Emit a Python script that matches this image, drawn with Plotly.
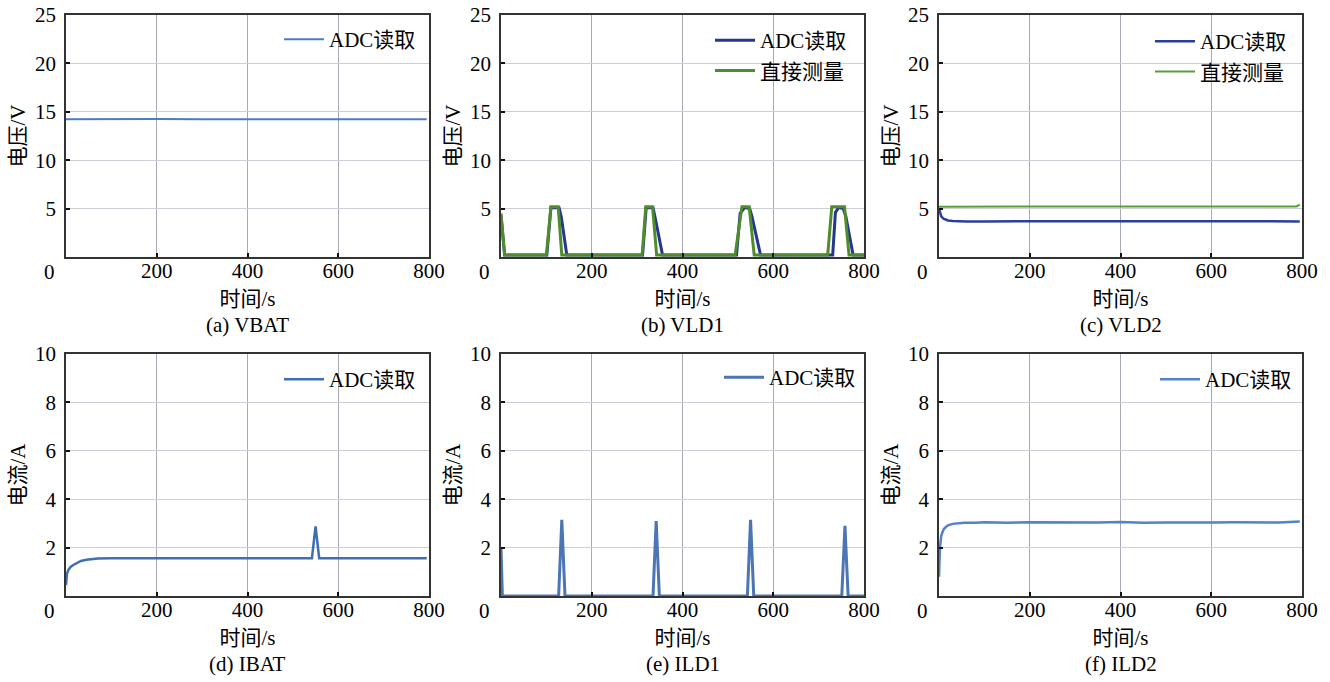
import plotly.graph_objects as go

# ---------------- data ----------------
vbat_t = [0, 100, 200, 300, 400, 500, 600, 700, 795]
vbat_adc = [14.22, 14.27, 14.25, 14.23, 14.24, 14.22, 14.25, 14.24, 14.23]

vld1_direct_t = [0, 8, 100, 110, 126, 134, 311, 319, 334, 343, 516, 531, 547, 558, 720, 729, 757, 767, 800]
vld1_direct = [4.5, 0.2, 0.2, 5.2, 5.2, 0.2, 0.2, 5.2, 5.2, 0.2, 0.2, 5.2, 5.2, 0.2, 0.2, 5.2, 5.2, 0.2, 0.2]
vld1_adc_t = [0, 8, 101, 110, 128, 133, 145, 312, 320, 335, 340, 356, 519, 527, 537, 548, 553, 572, 731, 737, 744, 754, 760, 776, 800]
vld1_adc = [4.3, 0.2, 0.2, 5.1, 5.1, 4.1, 0.2, 0.2, 5.1, 5.1, 4.0, 0.2, 0.2, 4.5, 5.1, 5.0, 4.2, 0.2, 0.2, 4.6, 5.1, 5.0, 4.2, 0.2, 0.2]

vld2_direct_t = [0, 100, 200, 300, 400, 500, 600, 700, 788, 795]
vld2_direct = [5.2, 5.2, 5.2, 5.21, 5.2, 5.2, 5.21, 5.2, 5.22, 5.4]
vld2_adc_t = [0, 2, 5, 10, 15, 20, 30, 40, 60, 100, 200, 300, 400, 500, 600, 700, 795]
vld2_adc = [5.0, 4.6, 4.2, 3.95, 3.85, 3.78, 3.72, 3.7, 3.68, 3.68, 3.7, 3.72, 3.7, 3.69, 3.7, 3.69, 3.68]

ibat_t = [0, 2, 5, 10, 16, 25, 33, 45, 55, 70, 100, 200, 300, 400, 500, 542, 550, 558, 600, 700, 795]
ibat_adc = [0.45, 0.9, 1.07, 1.2, 1.28, 1.38, 1.45, 1.5, 1.53, 1.55, 1.56, 1.56, 1.56, 1.56, 1.56, 1.56, 2.88, 1.56, 1.56, 1.56, 1.56]

ild1_t = [0, 3, 127, 134, 141, 335, 342, 349, 543, 550, 557, 751, 758, 765, 800]
ild1_adc = [2.0, 0, 0, 3.15, 0, 0, 3.1, 0, 0, 3.15, 0, 0, 2.9, 0, 0]

ild2_t = [0, 2, 5, 10, 15, 20, 30, 40, 55, 80, 100, 125, 150, 200, 250, 300, 350, 400, 450, 500, 550, 600, 650, 700, 750, 795]
ild2_adc = [0.8, 2.0, 2.5, 2.75, 2.85, 2.92, 2.98, 3.01, 3.03, 3.03, 3.05, 3.04, 3.03, 3.05, 3.04, 3.03, 3.04, 3.06, 3.03, 3.04, 3.03, 3.04, 3.05, 3.03, 3.04, 3.08]

captions = ["(a) VBAT", "(b) VLD1", "(c) VLD2", "(d) IBAT", "(e) ILD1", "(f) ILD2"]
x_title = "时间/s"
y_titles = ["电压/V", "电压/V", "电压/V", "电流/A", "电流/A", "电流/A"]
x_ticks = [200, 400, 600, 800]
v_ticks = [5, 10, 15, 20, 25]
i_ticks = [2, 4, 6, 8, 10]
name_adc = "ADC读取"
name_direct = "直接测量"

# ---------------- layout geometry ----------------
W, H = 1330, 682
FONT = "Liberation Serif, Noto Sans CJK SC, serif"
FS = 21
xdom_px = [(66, 429), (501, 864), (939, 1302)]
ydom_px = [(15, 257), (354, 596)]
legend_px = [(286, 40), (717, 41), (1157, 42), (286, 380), (726, 378), (1162, 380)]


def px(p):
    return p / W


def py(p):
    return 1 - p / H


fig = go.Figure()

series = [
    [(vbat_t, vbat_adc, name_adc, "#4a7cc4", 2)],
    [(vld1_adc_t, vld1_adc, name_adc, "#26368f", 3), (vld1_direct_t, vld1_direct, name_direct, "#4e8c2c", 3)],
    [(vld2_adc_t, vld2_adc, name_adc, "#2a3f99", 2.5), (vld2_direct_t, vld2_direct, name_direct, "#5a9e36", 2)],
    [(ibat_t, ibat_adc, name_adc, "#3f6fb3", 2.5)],
    [(ild1_t, ild1_adc, name_adc, "#4c75b3", 3)],
    [(ild2_t, ild2_adc, name_adc, "#5382c6", 2.5)],
]

annotations = []
for k in range(6):
    r, c = divmod(k, 3)
    xa = "x" if k == 0 else f"x{k+1}"
    ya = "y" if k == 0 else f"y{k+1}"
    lg = "legend" if k == 0 else f"legend{k+1}"
    for (tx, ty, nm, col, w) in series[k]:
        fig.add_trace(go.Scatter(x=tx, y=ty, mode="lines", name=nm, showlegend=True,
                                 line=dict(color=col, width=w),
                                 xaxis=xa, yaxis=ya, legend=lg))
    x0, x1 = xdom_px[c]
    y0, y1 = ydom_px[r]
    xkey = "xaxis" if k == 0 else f"xaxis{k+1}"
    ykey = "yaxis" if k == 0 else f"yaxis{k+1}"
    common = dict(showline=True, mirror=True, linecolor="#333333", linewidth=1.5,
                  ticks="inside", ticklen=4, tickcolor="#111111", tickwidth=1.5,
                  showgrid=True, gridwidth=1, zeroline=False, automargin=False,
                  ticklabeloverflow="allow",
                  tickfont=dict(family=FONT, size=FS, color="black"))
    fig.layout[xkey] = dict(domain=[px(x0), px(x1)], range=[0, 800], tickvals=x_ticks,
                            gridcolor="#a9a9b3", anchor=ya, ticklabelstandoff=-6,
                            title=dict(text=x_title, font=dict(family=FONT, size=FS, color="black"), standoff=9),
                            **common)
    yt = v_ticks if r == 0 else i_ticks
    ymax = 25 if r == 0 else 10
    fig.layout[ykey] = dict(domain=[py(y1), py(y0)], range=[0, ymax], tickvals=yt,
                            gridcolor="#cdcdd5", anchor=xa, ticklabelstandoff=4,
                            title=dict(text=y_titles[k], font=dict(family=FONT, size=FS, color="black"), standoff=4),
                            **common)
    # shared corner zero label
    annotations.append(dict(text="0", xref=f"{xa} domain", yref=f"{ya} domain", x=0, y=0,
                            xanchor="right", yanchor="middle", xshift=-9, yshift=-15, showarrow=False,
                            font=dict(family=FONT, size=FS, color="black")))
    # caption
    annotations.append(dict(text=captions[k], xref=f"{xa} domain", yref=f"{ya} domain", x=0.5, y=0,
                            xanchor="center", yanchor="middle", yshift=-68, showarrow=False,
                            font=dict(family=FONT, size=FS, color="black")))
    lx, ly = legend_px[k]
    fig.layout[lg] = dict(x=px(lx - 7), y=py(ly - 21), xanchor="left", yanchor="top",
                          bgcolor="rgba(0,0,0,0)", borderwidth=0, tracegroupgap=0, itemwidth=40,
                          font=dict(family=FONT, size=FS, color="black"))

fig.update_layout(width=W, height=H, autosize=False, margin=dict(l=0, r=0, t=0, b=0, autoexpand=False),
                  paper_bgcolor="white", plot_bgcolor="white", annotations=annotations, showlegend=True,
                  font=dict(family=FONT, size=FS, color="black"))

# remove the default page margin so the figure fills the window exactly
fig.write_html("out.html", config={"displayModeBar": False},
               post_script="document.body.style.margin='0';")
